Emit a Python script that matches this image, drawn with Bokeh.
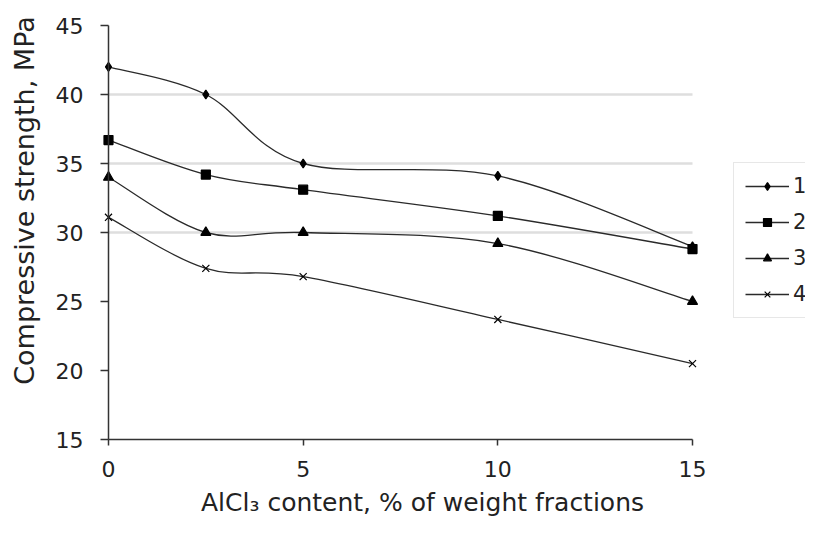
import math
from bokeh.plotting import figure
from bokeh.models import (Range1d, FixedTicker, Legend, LegendItem, Label, ColumnDataSource)
from bokeh.embed import file_html
from bokeh.resources import INLINE

# ---- data ----
x_vals = [0, 2.5, 5, 10, 15]
series_names = ["1", "2", "3", "4"]
s1 = [42.0, 40.0, 35.0, 34.1, 29.0]
s2 = [36.7, 34.2, 33.1, 31.2, 28.8]
s3 = [34.0, 30.0, 30.0, 29.2, 25.0]
s4 = [31.1, 27.4, 26.8, 23.7, 20.5]
y_ticks = [15, 20, 25, 30, 35, 40, 45]
x_ticks = [0, 5, 10, 15]
grid_levels = [30, 35, 40]
x_title = "AlCl\u2083 content, % of weight fractions"
y_title = "Compressive strength, MPa"

# ---- layout (frame = whole canvas, axes placed at fixed data locations) ----
W, H = 805, 517
X0_PX, X15_PX = 108, 692      # pixel of x=0 and x=15
Y45_PX, Y15_PX = 25, 439      # pixel of y=45 and y=15
px_x = (X15_PX - X0_PX) / 15.0
px_y = (Y15_PX - Y45_PX) / 30.0
x_lo, x_hi = x_ticks[0], x_ticks[-1]

p = figure(width=W, height=H, output_backend="svg", toolbar_location=None,
           x_range=Range1d(-X0_PX / px_x, (W - X0_PX) / px_x),
           y_range=Range1d(15 - (H - Y15_PX) / px_y, 45 + Y45_PX / px_y),
           min_border=0, min_border_left=0, min_border_right=0,
           min_border_top=0, min_border_bottom=0)
p.outline_line_color = None
p.background_fill_color = "white"
p.border_fill_color = "white"

FONT = "DejaVu Sans"
TXT = "#222222"
AX = "#333333"

p.xgrid.visible = False
p.ygrid.visible = False
# horizontal gridlines spanning only the x data domain
p.segment(x0=[x_lo] * len(grid_levels), x1=[x_hi] * len(grid_levels),
          y0=grid_levels, y1=grid_levels, line_color="#dedede", line_width=2.5,
          level="underlay")

for ax in (p.xaxis[0], p.yaxis[0]):
    ax.axis_line_color = AX
    ax.axis_line_width = 1.5
    ax.major_tick_line_color = AX
    ax.major_tick_line_width = 1.5
    ax.major_tick_in = 0
    ax.minor_tick_line_color = None
    ax.major_label_text_font = FONT
    ax.major_label_text_font_size = "22px"
    ax.major_label_text_color = TXT

p.xaxis.ticker = FixedTicker(ticks=x_ticks)
p.xaxis.bounds = (x_lo, x_hi)
p.xaxis.fixed_location = 15
p.xaxis.major_tick_out = 6
p.xaxis.major_label_standoff = 15

p.yaxis.ticker = FixedTicker(ticks=y_ticks)
p.yaxis.bounds = (15, 45)
p.yaxis.fixed_location = 0
p.yaxis.major_tick_out = 8
p.yaxis.major_label_standoff = 17


def bezier_cols(xs, ys):
    n = len(xs)
    d = dict(x0=[], y0=[], x1=[], y1=[], cx0=[], cy0=[], cx1=[], cy1=[])
    for i in range(n - 1):
        xa, ya = xs[i], ys[i]
        xb, yb = xs[i + 1], ys[i + 1]
        xp, yp = (xs[i - 1], ys[i - 1]) if i > 0 else (xa, ya)
        xn, yn = (xs[i + 2], ys[i + 2]) if i + 2 < n else (xb, yb)
        d["x0"].append(xa); d["y0"].append(ya)
        d["x1"].append(xb); d["y1"].append(yb)
        d["cx0"].append(xa + (xb - xp) / 6.0); d["cy0"].append(ya + (yb - yp) / 6.0)
        d["cx1"].append(xb - (xn - xa) / 6.0); d["cy1"].append(yb - (yn - ya) / 6.0)
    return d


LINE = "#2a2a2a"
markers = [("diamond", 9), ("square", 9), ("triangle", 10), ("x", 10)]
items = []
for name, ys, (mk, sz) in zip(series_names, [s1, s2, s3, s4], markers):
    src = ColumnDataSource(bezier_cols(x_vals, ys))
    r_line = p.bezier(x0="x0", y0="y0", x1="x1", y1="y1", cx0="cx0", cy0="cy0",
                      cx1="cx1", cy1="cy1", source=src, line_color=LINE, line_width=1.3)
    r_mk = p.scatter(x_vals, ys, marker=mk, size=sz, fill_color="black",
                     line_color="black", line_width=1.2)
    items.append(LegendItem(label=name, renderers=[r_line, r_mk]))

# legend box: left ~733 px, bottom ~318 px
legend = Legend(items=items, location=(733, H - 318))
legend.label_text_font = FONT
legend.label_text_font_size = "21px"
legend.label_text_color = TXT
legend.glyph_width = 44
legend.glyph_height = 20
legend.label_height = 20
legend.label_standoff = 4
legend.spacing = 12
legend.padding = 11
legend.margin = 0
legend.border_line_color = "#d0d0d0"
legend.border_line_width = 1.5
legend.background_fill_color = "white"
legend.background_fill_alpha = 1.0
p.add_layout(legend, "center")

# axis titles
xt = Label(x=(422 - X0_PX) / px_x, y=15 - (502 - Y15_PX) / px_y, text=x_title,
           text_font=FONT, text_font_size="25px", text_color=TXT,
           text_align="center", text_baseline="middle")
yt = Label(x=(24 - X0_PX) / px_x, y=45 - (200 - Y45_PX) / px_y, text=y_title,
           text_font=FONT, text_font_size="27px", text_color=TXT,
           text_align="center", text_baseline="middle", angle=math.pi / 2)
p.add_layout(xt)
p.add_layout(yt)

open("out.html", "w").write(file_html(p, INLINE))
